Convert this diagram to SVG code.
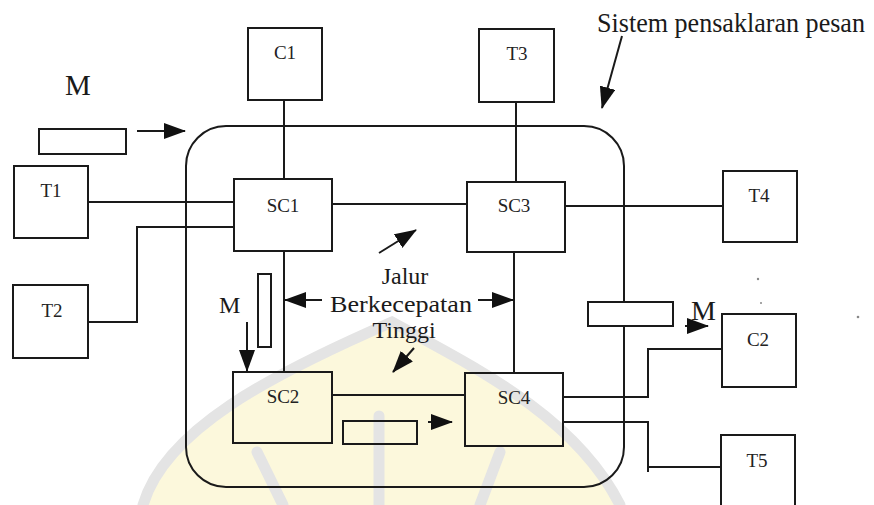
<svg xmlns="http://www.w3.org/2000/svg" width="874" height="505" viewBox="0 0 874 505">
  <defs>
    <style>
      .box { fill: none; stroke: #1a1a1a; stroke-width: 2; }
      .ln { fill: none; stroke: #1a1a1a; stroke-width: 2; }
      .lbl { font-family: "Liberation Serif", "Times New Roman", serif; font-size: 19px; fill: #222; text-anchor: middle; }
      .big { font-family: "Liberation Serif", "Times New Roman", serif; fill: #1a1a1a; }
      .wm { fill: none; stroke: #e4e4e4; stroke-width: 11; stroke-linecap: round; }
    </style>
    <marker id="ah" viewBox="0 0 22 16" markerWidth="22" markerHeight="16" refX="21" refY="8" orient="auto" markerUnits="userSpaceOnUse">
      <path d="M0,0 L22,8 L0,16 Z" fill="#111"/>
    </marker>
  </defs>
  <rect width="874" height="505" fill="#ffffff"/>

  <!-- faint watermark -->
  <g id="watermark">
    <path d="M143,505 C165,430 270,375 392,322 C470,365 575,415 620,505 Z" fill="#fcf8dc"/>
    <path class="wm" d="M143,505 C165,430 270,375 392,322 C470,365 575,415 620,505"/>
    <line class="wm" x1="379" y1="416" x2="379" y2="505"/>
    <line class="wm" x1="257" y1="452" x2="283" y2="505"/>
    <line class="wm" x1="500" y1="452" x2="480" y2="505"/>
  </g>

  <!-- system boundary -->
  <g id="system">
    <rect x="186" y="126" width="438" height="361" rx="40" ry="40" class="box"/>
  </g>

  <g id="connectors">
    <line class="ln" x1="284" y1="100" x2="284" y2="179"/>
    <line class="ln" x1="88" y1="202" x2="234" y2="202"/>
    <polyline class="ln" points="234,227 137,227 137,322 88,322"/>
    <line class="ln" x1="332" y1="204" x2="467" y2="204"/>
    <line class="ln" x1="516" y1="102" x2="516" y2="182"/>
    <line class="ln" x1="565" y1="206" x2="723" y2="206"/>
    <line class="ln" x1="284" y1="251" x2="284" y2="372"/>
    <line class="ln" x1="514" y1="252" x2="514" y2="373"/>
    <line class="ln" x1="332" y1="395" x2="465" y2="395"/>
    <polyline class="ln" points="563,397 648,397 648,349 722,349"/>
    <polyline class="ln" points="563,422 648,422 648,472"/>
    <line class="ln" x1="648" y1="467" x2="721" y2="467"/>
  </g>

  <g id="arrows">
    <line class="ln" x1="137" y1="131" x2="185" y2="131" marker-end="url(#ah)"/>
    <line class="ln" x1="622" y1="36" x2="602" y2="108" marker-end="url(#ah)"/>
    <line class="ln" x1="379" y1="253" x2="416" y2="230" marker-end="url(#ah)"/>
    <line class="ln" x1="322" y1="300" x2="285" y2="300" marker-end="url(#ah)"/>
    <line class="ln" x1="478" y1="300" x2="513" y2="300" marker-end="url(#ah)"/>
    <line class="ln" x1="414" y1="348" x2="393" y2="372" marker-end="url(#ah)"/>
    <line class="ln" x1="247" y1="322" x2="247" y2="371" marker-end="url(#ah)"/>
    <line class="ln" x1="428" y1="422" x2="452" y2="422" marker-end="url(#ah)"/>
    <line class="ln" x1="685" y1="326" x2="708" y2="326" marker-end="url(#ah)"/>
  </g>

  <!-- messages -->
  <g id="msg-top"><rect x="39" y="129" width="87" height="25" class="box"/></g>
  <g id="msg-left"><rect x="258" y="274" width="13" height="73" class="box"/></g>
  <g id="msg-bottom"><rect x="343" y="421" width="74" height="23" class="box"/></g>
  <g id="msg-right"><rect x="588" y="302" width="85" height="24" class="box" style="fill:#ffffff"/></g>

  <!-- nodes -->
  <g id="C1"><rect x="248" y="28" width="74" height="72" class="box"/><text class="lbl" x="285" y="59">C1</text></g>
  <g id="T3"><rect x="479" y="29" width="75" height="73" class="box"/><text class="lbl" x="517" y="60">T3</text></g>
  <g id="T1"><rect x="14" y="166" width="74" height="72" class="box"/><text class="lbl" x="51" y="197">T1</text></g>
  <g id="T2"><rect x="13" y="285" width="75" height="73" class="box"/><text class="lbl" x="52" y="317">T2</text></g>
  <g id="SC1"><rect x="234" y="179" width="98" height="72" class="box"/><text class="lbl" x="283" y="212">SC1</text></g>
  <g id="SC3"><rect x="467" y="182" width="98" height="70" class="box"/><text class="lbl" x="514" y="212">SC3</text></g>
  <g id="T4"><rect x="723" y="171" width="74" height="71" class="box"/><text class="lbl" x="759" y="202">T4</text></g>
  <g id="SC2"><rect x="233" y="372" width="99" height="71" class="box"/><text class="lbl" x="283" y="403">SC2</text></g>
  <g id="SC4"><rect x="465" y="373" width="98" height="73" class="box"/><text class="lbl" x="514" y="404">SC4</text></g>
  <g id="C2"><rect x="722" y="314" width="74" height="73" class="box"/><text class="lbl" x="758" y="346">C2</text></g>
  <g id="T5"><rect x="721" y="435" width="74" height="85" class="box"/><text class="lbl" x="757" y="467">T5</text></g>

  <!-- labels -->
  <g id="labels">
    <text class="big" x="597" y="32" font-size="27" textLength="268" lengthAdjust="spacingAndGlyphs">Sistem pensaklaran pesan</text>
    <text class="big" x="65" y="95" font-size="29">M</text>
    <text class="big" x="219" y="313" font-size="24">M</text>
    <text class="big" x="691" y="320" font-size="28">M</text>
    <text class="big" x="405" y="284" font-size="24" text-anchor="middle">Jalur</text>
    <text class="big" x="330" y="312" font-size="24" textLength="142" lengthAdjust="spacingAndGlyphs">Berkecepatan</text>
    <text class="big" x="404" y="338" font-size="24" text-anchor="middle">Tinggi</text>
  </g>

  <g id="specks" fill="#888">
    <circle cx="758" cy="279" r="1.2"/>
    <circle cx="761" cy="303" r="1"/>
    <circle cx="858" cy="317" r="1.3"/>
  </g>
</svg>
